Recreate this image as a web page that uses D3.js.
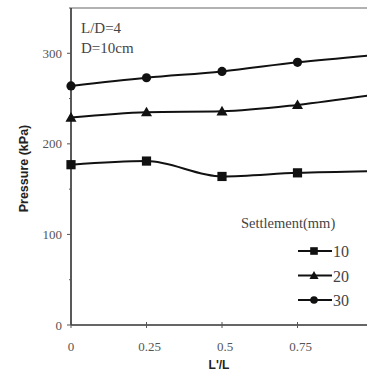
<!DOCTYPE html>
<html>
<head>
<meta charset="utf-8">
<script src="https://cdn.jsdelivr.net/npm/d3@7"></script>
<style>
  body { margin: 0; background: #fff; }
  svg { display: block; }
  .tick-label { font-family: "Liberation Serif", serif; font-size: 13px; fill: #555; }
</style>
</head>
<body>
<div id="chart"></div>
<script>
// data
const xValues = [0, 0.25, 0.5, 0.75, 1.0];
const s10 = [177, 181, 164, 168, 170];
const s20 = [229, 235, 236, 243, 254];
const s30 = [264, 273, 280, 290, 298];
const seriesNames = ["10", "20", "30"];
const markerTypes = ["square", "triangle", "circle"];
const xTicks = [0, 0.25, 0.5, 0.75];
const xTickLabels = ["0", "0.25", "0.5", "0.75"];
const yTicks = [0, 100, 200, 300];

const W = 367, H = 375;
const margin = { top: 8, left: 71, bottom: 50 };

const svg = d3.select("#chart").append("svg")
  .attr("width", W).attr("height", H);

const x = d3.scaleLinear().domain([0, 1]).range([margin.left, 373]);
const y = d3.scaleLinear().domain([0, 350]).range([H - margin.bottom, margin.top]);

// frame top line
svg.append("line")
  .attr("x1", x(0)).attr("x2", W)
  .attr("y1", y(350)).attr("y2", y(350))
  .attr("stroke", "#999").attr("stroke-width", 1.5);

// axes
svg.append("line")
  .attr("x1", x(0)).attr("x2", x(0))
  .attr("y1", y(0)).attr("y2", y(350))
  .attr("stroke", "#222").attr("stroke-width", 1.5);
svg.append("line")
  .attr("x1", x(0)).attr("x2", W)
  .attr("y1", y(0)).attr("y2", y(0))
  .attr("stroke", "#333").attr("stroke-width", 1.5);

// y ticks (major + minor)
d3.range(0, 351, 50).forEach(v => {
  svg.append("line")
    .attr("x1", x(0) - (v % 100 === 0 ? 4 : 2)).attr("x2", x(0))
    .attr("y1", y(v)).attr("y2", y(v))
    .attr("stroke", "#555").attr("stroke-width", 1);
});
yTicks.forEach(v => {
  svg.append("text").attr("class", "tick-label")
    .attr("x", x(0) - 9).attr("y", y(v) + 4.5)
    .attr("text-anchor", "end")
    .text(v);
});

// x ticks
xTicks.forEach((v, i) => {
  svg.append("line")
    .attr("x1", x(v)).attr("x2", x(v))
    .attr("y1", y(0) - 3).attr("y2", y(0) + 3)
    .attr("stroke", "#555").attr("stroke-width", 1);
  svg.append("text").attr("class", "tick-label")
    .attr("x", x(v) + (i === 0 ? 0 : 3)).attr("y", y(0) + 26)
    .attr("text-anchor", "middle")
    .text(xTickLabels[i]);
});

// axis titles
svg.append("text")
  .attr("transform", `translate(28,${(y(0) + y(350)) / 2 + 2}) rotate(-90)`)
  .attr("text-anchor", "middle")
  .style("font-family", "Liberation Sans, Arial, sans-serif")
  .style("font-size", "12.5px").style("font-weight", "bold")
  .attr("fill", "#222")
  .text("Pressure (kPa)");
svg.append("text")
  .attr("x", 219).attr("y", 369)
  .attr("text-anchor", "middle")
  .style("font-family", "Liberation Sans, Arial, sans-serif")
  .style("font-size", "12px").style("font-weight", "bold")
  .attr("fill", "#222")
  .text("L'/L");

// annotation
svg.append("text").attr("x", 81).attr("y", 33)
  .style("font-family", "Liberation Serif, serif").style("font-size", "15px")
  .attr("fill", "#444").text("L/D=4");
svg.append("text").attr("x", 81).attr("y", 53)
  .style("font-family", "Liberation Serif, serif").style("font-size", "15px")
  .attr("fill", "#444").text("D=10cm");

svg.append("clipPath").attr("id", "clip")
  .append("rect").attr("x", 0).attr("y", 0).attr("width", W).attr("height", H);

const line = d3.line()
  .x((d, i) => x(xValues[i]))
  .y(d => y(d))
  .curve(d3.curveMonotoneX);

function drawMarker(g, type, cx, cy, s) {
  if (type === "square") {
    g.append("rect").attr("x", cx - s).attr("y", cy - s)
      .attr("width", 2 * s).attr("height", 2 * s).attr("fill", "#111");
  } else if (type === "triangle") {
    g.append("path")
      .attr("d", `M${cx},${cy - 1.2 * s}L${cx + 1.2 * s},${cy + 0.9 * s}L${cx - 1.2 * s},${cy + 0.9 * s}Z`)
      .attr("fill", "#111");
  } else {
    g.append("circle").attr("cx", cx).attr("cy", cy).attr("r", s).attr("fill", "#111");
  }
}

const plot = svg.append("g").attr("clip-path", "url(#clip)");
[s10, s20, s30].forEach((s, k) => {
  plot.append("path").datum(s)
    .attr("d", line)
    .attr("fill", "none").attr("stroke", "#111").attr("stroke-width", 2);
  s.forEach((v, i) => drawMarker(plot, markerTypes[k], x(xValues[i]), y(v), 4.6));
});

// legend
svg.append("text").attr("x", 241).attr("y", 228)
  .style("font-family", "Liberation Serif, serif").style("font-size", "14.5px")
  .attr("fill", "#444").text("Settlement(mm)");
seriesNames.forEach((n, k) => {
  const ly = 251 + k * 24.5;
  svg.append("line").attr("x1", 298).attr("x2", 332)
    .attr("y1", ly).attr("y2", ly)
    .attr("stroke", "#111").attr("stroke-width", 2);
  drawMarker(svg, markerTypes[k], 314, ly, 3.8);
  svg.append("text").attr("x", 333).attr("y", ly + 6)
    .style("font-family", "Liberation Serif, serif").style("font-size", "16px")
    .attr("fill", "#444").text(n);
});
</script>
</body>
</html>
